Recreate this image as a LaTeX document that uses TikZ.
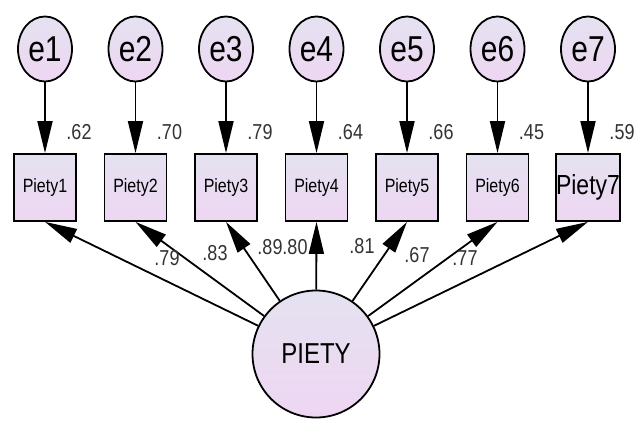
\documentclass[tikz,border=0pt]{standalone}
\usepackage{fontspec}
\setmainfont{Liberation Sans}
\usetikzlibrary{arrows.meta,shapes.geometric}

\definecolor{fillA}{RGB}{228,226,240}
\definecolor{fillB}{RGB}{238,214,242}
\newcommand{\vtext}[1]{\scalebox{1}[1.2]{#1}}

\tikzset{
  shade/.style={top color=fillA,bottom color=fillB,draw=black,line width=1.8pt},
  err/.style={shade,ellipse,minimum width=54pt,minimum height=65pt,inner sep=0pt,
    font=\fontsize{30}{30}\selectfont},
  ind/.style={shade,rectangle,minimum width=62pt,minimum height=67pt,inner sep=0pt},
  lat/.style={shade,circle,minimum size=127pt,inner sep=0pt,
    font=\fontsize{24}{24}\selectfont},
  num/.style={inner sep=0pt,text=black!80,font=\fontsize{18}{18}\selectfont},
  arr/.style={-{Triangle[length=32pt,width=15pt]},line width=1.8pt}
}

\begin{document}
\begin{tikzpicture}[x=1pt,y=-1pt]
\useasboundingbox (0,0) rectangle (637,423);

% error terms, indicators and their variances
\foreach \i/\x/\v/\f in {1/45/.62/16,2/135.5/.70/16,3/226/.79/16,4/316.5/.64/16,
                         5/407/.66/16,6/497.5/.45/16,7/588/.59/23}{
\node[err] (e\i) at (\x,49) {\vtext{e\i}};
\node[ind,font=\fontsize{\f}{\f}\selectfont] (p\i) at (\x,187.5) {\vtext{Piety\i}};
\draw[arr] (e\i) -- (p\i);
\node[num] (r\i) at (\x+34,132) {\vtext{\v}};
}

% latent factor
\node[lat] (piety) at (316,354) {\vtext{PIETY}};
\foreach \i in {1,...,7}
  \draw[arr] (piety) -- (p\i.south);

% loadings
\foreach \i/\x/\y/\v in {1/167/258/.79,2/215/253/.83,3/270/247/.89,4/295/247/.80,
                         5/362/246/.81,6/417/255/.67,7/465/258/.77}
  \node[num] (l\i) at (\x,\y) {\vtext{\v}};
\end{tikzpicture}
\end{document}
